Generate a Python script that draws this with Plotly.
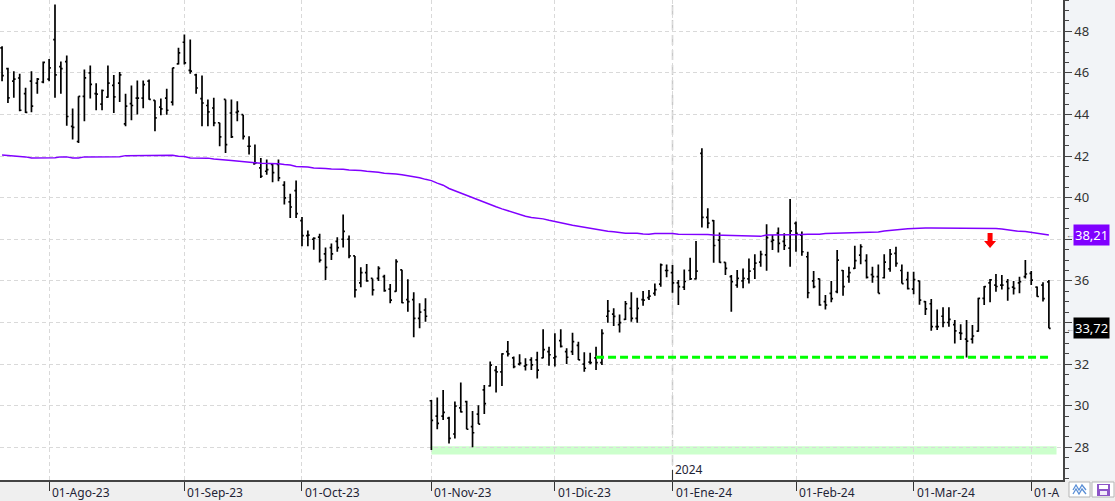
import pandas as pd
import plotly.graph_objects as go

# ---------------- data ----------------
holidays = ["2023-09-04", "2023-11-23", "2023-12-25", "2024-01-01",
            "2024-01-15", "2024-02-19", "2024-03-29"]
dates = [d.strftime("%Y-%m-%d") for d in pd.bdate_range("2023-07-20", "2024-04-04")
         if d.strftime("%Y-%m-%d") not in holidays]

opens = [47.2, 46.2, 45.6, 45.75, 45.0, 45.6, 45.5, 45.56, 45.7, 47.6,
         46.3, 46.54, 43.43, 42.7, 44.87, 46.0, 45.0, 44.5, 44.83, 45.4,
         45.5, 43.55, 44.52, 44.78, 44.78, 45.6, 44.68, 44.35, 44.78, 44.59,
         46.43, 47.47, 46.12, 45.9, 44.76, 44.43, 44.31, 43.6, 44.72, 44.07,
         44.1, 43.99, 42.47, 41.62, 41.43, 41.27, 41.6, 41.6, 40.6, 39.8,
         40.34, 38.9, 38.18, 38.0, 38.1, 37.3, 37.6, 37.9, 38.0, 38.0,
         37.2, 35.9, 36.4, 36.12, 36.12, 36.2, 35.6, 35.5, 36.53, 35.1,
         35.1, 34.2, 34.6, 30.24, 29.5, 29.5, 29.4, 28.64, 29.9, 30.2,
         29.0, 29.6, 30.76, 30.95, 31.7, 31.63, 32.6, 32.3, 32.0, 31.9,
         32.2, 32.2, 32.3, 32.6, 32.3, 33.13, 32.6, 32.6, 32.9, 32.0,
         32.1, 32.3, 32.07, 34.3, 34.4, 33.9, 34.15, 34.68, 34.2, 35.1,
         35.2, 35.4, 35.84, 36.5, 36.4, 35.9, 35.7, 36.5, 36.1, 42.13,
         39.05, 38.9, 37.96, 36.89, 36.2, 35.8, 36.0, 36.1, 36.57, 36.9,
         37.25, 37.9, 38.3, 37.9, 37.57, 38.76, 38.2, 37.16, 36.0, 36.1,
         35.0, 35.4, 35.48, 36.5, 36.2, 36.6, 37.24, 36.97, 36.3, 36.2,
         36.15, 36.58, 37.32, 36.5, 36.06, 35.6, 36.0, 35.0, 34.9, 33.8,
         34.3, 34.0, 33.9, 33.5, 33.2, 33.2, 33.59, 35.16, 35.9, 35.8,
         35.8, 35.96, 35.7, 35.9, 36.2, 36.36, 35.7, 35.8, 35.95]
highs = [47.28, 46.24, 46.08, 45.96, 45.28, 46.08, 45.75, 46.54, 46.67, 49.28,
         46.54, 46.83, 44.28, 44.87, 46.16, 46.35, 45.5, 45.2, 46.35, 45.9,
         46.04, 45.0, 45.39, 45.63, 45.63, 45.68, 44.68, 44.76, 45.23, 46.24,
         47.2, 47.84, 47.6, 45.96, 45.87, 44.72, 44.8, 43.6, 44.72, 44.72,
         44.63, 43.99, 42.95, 42.55, 41.91, 41.83, 41.67, 41.83, 40.79, 40.19,
         40.82, 39.07, 38.42, 38.1, 38.27, 37.6, 37.8, 38.1, 39.19, 38.18,
         37.2, 36.65, 36.81, 36.12, 36.7, 36.29, 35.85, 37.04, 36.53, 36.08,
         35.45, 34.92, 35.16, 30.28, 30.39, 30.76, 29.47, 30.2, 31.12, 30.24,
         29.75, 30.02, 31.0, 32.12, 31.91, 32.52, 33.11, 32.36, 32.47, 32.28,
         32.33, 32.6, 33.67, 32.84, 33.48, 33.67, 32.76, 33.51, 33.08, 32.57,
         32.55, 32.84, 33.67, 35.08, 34.68, 34.39, 35.03, 35.45, 35.19, 35.51,
         35.56, 35.88, 36.84, 36.79, 36.76, 36.04, 36.55, 37.11, 37.92, 42.37,
         39.49, 38.93, 38.33, 36.89, 36.28, 36.52, 36.6, 37.08, 37.28, 37.45,
         38.72, 38.2, 38.56, 38.29, 39.94, 38.85, 38.37, 37.4, 36.48, 36.12,
         35.32, 35.99, 37.48, 36.52, 36.68, 37.69, 37.76, 37.28, 36.68, 36.79,
         37.28, 37.53, 37.64, 36.79, 36.44, 36.44, 36.01, 35.03, 35.13, 34.63,
         34.73, 34.73, 34.12, 33.91, 34.12, 33.88, 35.19, 35.75, 36.09, 36.33,
         36.28, 36.09, 36.0, 36.2, 37.0, 36.48, 35.73, 35.94, 36.04]
lows = [45.6, 44.55, 44.8, 44.15, 44.07, 44.1, 44.99, 45.5, 45.6, 44.8,
        45.0, 43.46, 42.79, 42.63, 43.67, 44.76, 44.2, 44.2, 44.8, 44.07,
        44.6, 43.43, 43.72, 44.0, 44.3, 44.71, 43.19, 43.96, 43.99, 44.43,
        46.4, 46.4, 45.96, 45.0, 43.43, 43.43, 43.43, 42.47, 42.15, 42.87,
        43.67, 42.79, 42.07, 41.6, 40.95, 41.1, 40.74, 40.79, 39.67, 39.02,
        39.02, 37.66, 37.66, 37.5, 36.88, 36.04, 37.0, 37.4, 37.6, 37.09,
        35.2, 35.7, 35.96, 35.3, 36.0, 35.48, 34.92, 35.48, 34.92, 34.52,
        33.29, 33.72, 34.04, 27.87, 28.87, 29.31, 28.19, 28.43, 29.68, 28.87,
        28.0, 29.12, 29.6, 30.92, 30.63, 30.95, 32.36, 31.8, 31.93, 31.69,
        31.72, 31.31, 32.28, 31.92, 31.88, 32.8, 32.0, 32.44, 32.2, 31.63,
        31.99, 31.72, 31.96, 33.99, 33.83, 33.52, 34.12, 34.04, 33.99, 34.81,
        35.08, 35.29, 35.72, 36.17, 35.43, 34.84, 35.56, 36.04, 36.07, 38.56,
        38.53, 36.87, 36.87, 36.28, 34.52, 35.67, 35.64, 35.88, 36.09, 36.68,
        36.49, 37.48, 37.37, 37.48, 36.68, 37.4, 37.21, 35.16, 35.64, 34.81,
        34.63, 34.97, 35.4, 35.29, 35.91, 36.57, 36.8, 36.12, 35.91, 35.4,
        36.12, 36.44, 36.68, 35.88, 35.59, 35.36, 34.85, 34.36, 33.6, 33.64,
        33.77, 33.8, 32.99, 33.16, 32.32, 32.99, 33.56, 34.84, 34.97, 35.48,
        35.59, 35.04, 35.35, 35.4, 36.12, 35.8, 35.24, 35.01, 33.72]
closes = [45.87, 44.8, 45.7, 44.2, 44.1, 44.4, 45.7, 46.5, 46.24, 45.9,
          46.2, 43.9, 43.38, 44.87, 45.76, 45.44, 44.98, 45.15, 45.5, 44.84,
          45.9, 44.4, 44.43, 44.78, 45.43, 44.72, 43.83, 44.27, 44.2, 46.24,
          46.96, 46.48, 46.08, 45.27, 44.55, 44.12, 43.59, 42.92, 42.55, 42.92,
          44.15, 42.95, 42.47, 41.67, 41.03, 41.35, 41.2, 40.95, 39.99, 39.55,
          39.23, 38.18, 38.2, 38.05, 37.0, 36.65, 37.3, 37.6, 38.38, 37.2,
          35.57, 36.4, 36.0, 35.57, 36.6, 35.53, 35.08, 36.93, 34.95, 35.0,
          34.2, 34.5, 34.3, 29.3, 29.15, 29.68, 28.43, 29.98, 29.7, 28.87,
          28.7, 29.12, 30.1, 31.95, 31.63, 32.49, 32.49, 31.88, 32.05, 31.96,
          31.96, 31.71, 32.7, 32.45, 32.36, 32.85, 32.33, 33.08, 32.2, 31.8,
          32.07, 32.07, 33.48, 34.55, 34.29, 33.99, 34.9, 34.2, 34.68, 35.08,
          35.27, 35.58, 36.77, 36.5, 35.9, 35.72, 35.97, 36.1, 36.47, 39.05,
          38.78, 37.7, 36.89, 36.6, 35.96, 36.12, 36.12, 36.47, 36.85, 37.27,
          38.08, 37.96, 37.8, 37.7, 38.4, 38.29, 37.4, 35.43, 35.72, 34.84,
          34.84, 35.15, 37.0, 35.72, 36.4, 36.97, 37.64, 36.17, 36.2, 35.4,
          36.9, 37.29, 36.84, 35.87, 35.63, 36.06, 35.08, 34.65, 33.8, 33.8,
          34.0, 34.15, 33.6, 33.48, 33.1, 33.35, 35.16, 35.72, 36.05, 35.73,
          35.8, 35.64, 35.64, 35.96, 36.33, 36.04, 35.25, 35.15, 33.72]
ma200 = [42.05, 42.03, 42.0, 41.96, 41.96, 41.91, 41.91, 41.91, 41.91, 41.92,
         41.96, 41.96, 41.91, 41.91, 41.96, 41.96, 41.96, 41.96, 41.96, 41.96,
         41.97, 42.02, 42.02, 42.03, 42.04, 42.04, 42.04, 42.04, 42.04, 42.04,
         41.99, 41.98, 41.91, 41.91, 41.91, 41.9, 41.86, 41.85, 41.81, 41.79,
         41.77, 41.74, 41.7, 41.68, 41.65, 41.65, 41.64, 41.63, 41.59, 41.57,
         41.5, 41.5, 41.47, 41.43, 41.43, 41.4, 41.38, 41.38, 41.36, 41.33,
         41.33, 41.31, 41.27, 41.25, 41.22, 41.17, 41.16, 41.14, 41.1, 41.05,
         41.02, 40.96, 40.88, 40.82, 40.7, 40.6, 40.44, 40.33, 40.2, 40.08,
         39.97, 39.86, 39.76, 39.65, 39.56, 39.46, 39.37, 39.28, 39.2, 39.11,
         39.05, 39.03, 38.98, 38.91, 38.86, 38.81, 38.73, 38.67, 38.62, 38.58,
         38.53, 38.48, 38.44, 38.39, 38.36, 38.32, 38.29, 38.29, 38.29, 38.25,
         38.24, 38.28, 38.29, 38.29, 38.28, 38.24, 38.24, 38.24, 38.24, 38.24,
         38.23, 38.2, 38.19, 38.19, 38.19, 38.18, 38.14, 38.13, 38.13, 38.14,
         38.21, 38.22, 38.22, 38.22, 38.22, 38.22, 38.24, 38.24, 38.24, 38.24,
         38.28, 38.29, 38.29, 38.29, 38.29, 38.3, 38.33, 38.34, 38.34, 38.35,
         38.4, 38.43, 38.48, 38.49, 38.51, 38.52, 38.54, 38.54, 38.54, 38.54,
         38.54, 38.54, 38.54, 38.54, 38.54, 38.54, 38.54, 38.54, 38.54, 38.52,
         38.49, 38.45, 38.43, 38.38, 38.37, 38.33, 38.3, 38.25, 38.21]

month_ticks = ["2023-08-01", "2023-09-01", "2023-10-02", "2023-11-01", "2023-12-01",
               "2024-01-02", "2024-02-01", "2024-03-01", "2024-04-01"]
month_labels = ["01-Ago-23", "01-Sep-23", "01-Oct-23", "01-Nov-23", "01-Dic-23",
                "01-Ene-24", "01-Feb-24", "01-Mar-24", "01-A"]
year_tick = "2024-01-02"
year_label = "2024"
y_ticks = [28, 30, 32, 34, 36, 38, 40, 42, 44, 46, 48]
y_labels = ["28", "30", "32", "", "36", "", "40", "42", "44", "46", "48"]  # 34 / 38 hidden under value boxes

support_level = 32.33
support_start = "2023-12-12"
support_end = "2024-04-04"
zone_low, zone_high = 27.66, 28.05
zone_start = "2023-11-01"
arrow_date = "2024-03-20"
arrow_value = 37.58
last_ma_label = "38,21"
last_close_label = "33,72"

# ---------------- figure ----------------
W, H = 1115, 501
ML, MR, MT, MB = 0, 52, 0, 21
PW, PH = W - ML - MR, H - MT - MB
FONT = "Noto Sans"

fig = go.Figure()

fig.add_trace(go.Ohlc(
    x=dates, open=opens, high=highs, low=lows, close=closes,
    increasing=dict(line=dict(color="black", width=1.7)),
    decreasing=dict(line=dict(color="black", width=1.7)),
    tickwidth=0.3, showlegend=False, hoverinfo="skip"))

fig.add_trace(go.Scatter(
    x=dates, y=ma200, mode="lines",
    line=dict(color="#8000ff", width=1.5), showlegend=False, hoverinfo="skip"))

idx = {d: i for i, d in enumerate(dates)}
shapes = []
# right panel background
shapes.append(dict(type="rect", xref="paper", yref="paper", x0=1, x1=W / PW,
                   y0=0, y1=1, fillcolor="#f2f4f7", line=dict(width=0), layer="below"))
# light green zone
shapes.append(dict(type="rect", xref="x", yref="y", x0=idx[zone_start], x1=179.3,
                   y0=zone_low, y1=zone_high, fillcolor="#ccffcc",
                   line=dict(width=0), layer="below"))
# year divider
shapes.append(dict(type="line", xref="x", yref="paper", x0=idx[year_tick], x1=idx[year_tick],
                   y0=0, y1=1, line=dict(color="#c8c8c8", width=1.5, dash="10px,5px"),
                   layer="below"))
shapes.append(dict(type="line", xref="x", yref="paper", x0=idx[year_tick], x1=idx[year_tick],
                   y0=0, y1=10 / PH, line=dict(color="#333", width=1)))
# support dashed line
shapes.append(dict(type="line", xref="x", yref="y", x0=idx[support_start],
                   x1=idx[support_end], y0=support_level, y1=support_level,
                   line=dict(color="#00ff00", width=3, dash="8px,4px")))
# red down arrow (pixel-sized, anchored at the data point)
shapes.append(dict(type="path", xref="x", yref="y", xsizemode="pixel", ysizemode="pixel",
                   xanchor=idx[arrow_date], yanchor=arrow_value,
                   path="M-2.5,15 L2.5,15 L2.5,7 L6,7 L0,0 L-6,7 L-2.5,7 Z",
                   fillcolor="#ff0000", line=dict(width=0)))

# bottom right icons
def px2paper(px, py):
    return (px - ML) / PW, (PH - (py - MT)) / PH

def rect(px0, py0, px1, py1, **kw):
    x0, y0 = px2paper(px0, py0)
    x1, y1 = px2paper(px1, py1)
    d = dict(type="rect", xref="paper", yref="paper", x0=x0, x1=x1, y0=y0, y1=y1)
    d.update(kw)
    return d

shapes.append(rect(1069, 482, 1090, 497, fillcolor="white", line=dict(color="#b5b5b5", width=1)))
shapes.append(rect(1092, 482, 1114, 497, fillcolor="white", line=dict(color="#b5b5b5", width=1)))
pts = [(1073, 490), (1076, 485), (1079, 490), (1082, 485), (1086, 490)]
pts2 = [(1073, 494), (1076, 489), (1079, 494), (1082, 489), (1086, 494)]
for pp in (pts, pts2):
    path = ""
    for k, (a, b) in enumerate(pp):
        xx, yy = px2paper(a, b)
        path += ("M" if k == 0 else "L") + f"{xx},{yy} "
    shapes.append(dict(type="path", xref="paper", yref="paper", path=path,
                       line=dict(color="#5b8fd6", width=1.3)))
shapes.append(rect(1097, 484, 1110, 496, fillcolor="#8e55c8", line=dict(width=0)))
shapes.append(rect(1099, 485, 1108, 489, fillcolor="white", line=dict(width=0)))
shapes.append(rect(1100, 491, 1107, 495, fillcolor="#f2eafa", line=dict(width=0)))

annotations = []
for t, lab in zip(month_ticks, month_labels):
    annotations.append(dict(x=t, xref="x", y=0, yref="paper", text=lab, showarrow=False,
                            xanchor="left", yanchor="top", xshift=1, yshift=-2,
                            font=dict(family=FONT, size=12, color="#1f2436")))
annotations.append(dict(x=year_tick, xref="x", y=0, yref="paper", text=year_label,
                        showarrow=False, xanchor="left", yanchor="bottom", xshift=0, yshift=0,
                        font=dict(family=FONT, size=12, color="#1f2436")))
# last value boxes
for val, lab, bg in ((ma200[-1], last_ma_label, "#8000ff"), (closes[-1], last_close_label, "#000000")):
    annotations.append(dict(x=1 + 10 / PW, xref="paper", y=val, yref="y", text=lab,
                            showarrow=False, xanchor="left", yanchor="middle",
                            bgcolor=bg, borderpad=1,
                            font=dict(family=FONT, size=13, color="white")))
    annotations.append(dict(x=1 + 1 / PW, xref="paper", y=val, yref="y", text="←",
                            showarrow=False, xanchor="left", yanchor="middle",
                            font=dict(family=FONT, size=8, color="#555")))

fig.update_layout(
    width=W, height=H,
    margin=dict(l=ML, r=MR, t=MT, b=MB),
    paper_bgcolor="#efefef", plot_bgcolor="white",
    shapes=shapes, annotations=annotations, showlegend=False,
    font=dict(family=FONT, size=12, color="#333"),
    xaxis=dict(type="category", range=[-0.35, 180.4], rangeslider=dict(visible=False),
               tickmode="array", tickvals=month_ticks, ticktext=month_labels,
               showticklabels=False, ticks="outside", ticklen=9, tickcolor="#333",
               showgrid=True, gridcolor="#d9d9d9", griddash="4px,3px", gridwidth=1,
               showline=True, linecolor="#444", linewidth=1.5, zeroline=False,
               fixedrange=True),
    yaxis=dict(side="right", range=[26.43, 49.5], tickmode="array",
               tickvals=y_ticks, ticktext=y_labels,
               ticks="outside", ticklen=7, tickcolor="#444",
               showgrid=True, gridcolor="#d9d9d9", griddash="4px,3px", gridwidth=1,
               showline=True, linecolor="#444", linewidth=1.5, zeroline=False,
               tickfont=dict(family=FONT, size=13, color="#333"),
               minor=dict(dtick=0.5, ticks="outside", ticklen=4, tickcolor="#444",
                          showgrid=False),
               fixedrange=True),
)

fig.write_html("out.html")
